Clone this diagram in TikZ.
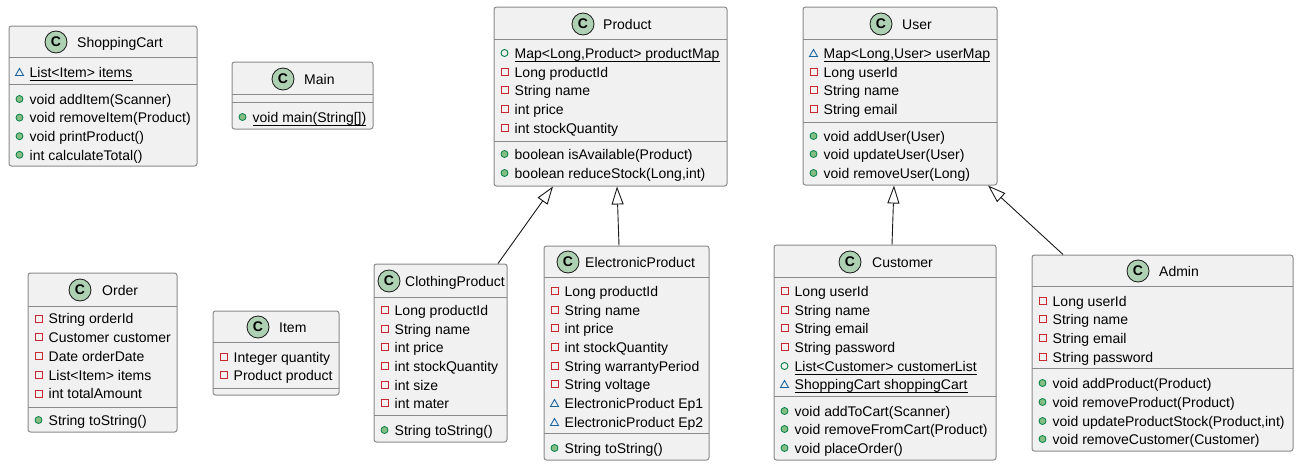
\documentclass[tikz,border=0pt]{standalone}
\usepackage{fontspec}
\setmainfont{Liberation Sans}
\usetikzlibrary{arrows.meta,fit}
\definecolor{boxfill}{HTML}{F1F1F1}
\definecolor{boxline}{HTML}{8A8A8A}
\definecolor{spotfill}{HTML}{ADD1B2}
\definecolor{privred}{HTML}{C82930}
\definecolor{pubgreen}{HTML}{038048}
\definecolor{pubfill}{HTML}{84BE84}
\definecolor{pkgblue}{HTML}{1963A0}
\definecolor{edgecol}{HTML}{181818}
\tikzset{
  clsbox/.style={draw=boxline, fill=boxfill, line width=1pt, rounded corners=2.5pt, inner sep=0pt},
  sepline/.style={draw=boxline, line width=1pt},
  rowtext/.style={anchor=base west, inner sep=0pt, font=\fontsize{14}{16}\selectfont, text=black},
  titletext/.style={anchor=base west, inner sep=0pt, font=\fontsize{14}{16}\selectfont, text=black},
  spot/.style={circle, draw=edgecol, fill=spotfill, line width=0.8pt, minimum size=22pt, inner sep=0pt, font=\bfseries\fontsize{14}{16}\selectfont},
  privst/.style={draw=privred, line width=0.9pt},
  pubmst/.style={draw=pubgreen, fill=pubfill, line width=0.8pt},
  pubfst/.style={draw=pubgreen, line width=0.9pt},
  pkgst/.style={draw=pkgblue, line width=0.9pt, line join=miter},
  inh/.style={draw=edgecol, line width=0.9pt, -{Triangle[open, length=18pt, width=12pt]}},
}
% #1 node name, #2 box left, #3 row centre y, #4 text
\newcommand{\privrow}[4]{%
  \draw[privst] (#2+7,#3-3.5) rectangle (#2+14,#3+3.5);
  \node[rowtext] (#1) at (#2+20.5,#3+5.2) {#4};}
\newcommand{\pubmrow}[4]{%
  \draw[pubmst] (#2+10.5,#3) circle (3.5);
  \node[rowtext] (#1) at (#2+20.5,#3+5.2) {#4};}
\newcommand{\pubfrow}[4]{%
  \draw[pubfst] (#2+10.5,#3) circle (3.5);
  \node[rowtext] (#1) at (#2+20.5,#3+5.2) {#4};}
\newcommand{\pkgrow}[4]{%
  \draw[pkgst] (#2+6.5,#3+3.5) -- (#2+10.5,#3-3.5) -- (#2+14.5,#3+3.5) -- cycle;
  \node[rowtext] (#1) at (#2+20.5,#3+5.2) {#4};}
\newcommand{\ul}[1]{\draw[black, line width=0.8pt] ([yshift=-3pt]#1.base west) -- ([yshift=-3pt]#1.base east);}
\begin{document}
\begin{tikzpicture}[x=1pt,y=-1pt]
\useasboundingbox (0,0) rectangle (1299,466);

% ---------- ShoppingCart ----------
\node[clsbox, fit={(9,26) (197,166)}] (shoppingcart) {};
\node[spot] (scspot) at (56,42) {C};
\node[titletext] (sctitle) at (77,47.5) {ShoppingCart};
\draw[sepline] (9,57) -- (197,57);
\draw[sepline] (9,84) -- (197,84);
\pkgrow{sc1}{9}{72}{List<Item> items}\ul{sc1}
\pubmrow{sc2}{9}{99}{void addItem(Scanner)}
\pubmrow{sc3}{9}{117.6}{void removeItem(Product)}
\pubmrow{sc4}{9}{136.2}{void printProduct()}
\pubmrow{sc5}{9}{154.8}{int calculateTotal()}

% ---------- Main ----------
\node[clsbox, fit={(232,62) (373,129)}] (main) {};
\node[spot] (mnspot) at (283,79) {C};
\node[titletext] (mntitle) at (304,84.5) {Main};
\draw[sepline] (232,94) -- (373,94);
\draw[sepline] (232,102) -- (373,102);
\pubmrow{mn1}{232}{117}{void main(String[])}\ul{mn1}

% ---------- Product ----------
\node[clsbox, fit={(494,7) (727,186)}] (product) {};
\node[spot] (prspot) at (583,24) {C};
\node[titletext] (prtitle) at (603,29.5) {Product};
\draw[sepline] (494,39) -- (727,39);
\draw[sepline] (494,141) -- (727,141);
\pubfrow{pr1}{494}{53}{Map<Long,Product> productMap}\ul{pr1}
\privrow{pr2}{494}{72}{Long productId}
\privrow{pr3}{494}{90}{String name}
\privrow{pr4}{494}{109}{int price}
\privrow{pr5}{494}{128}{int stockQuantity}
\pubmrow{pr6}{494}{154}{boolean isAvailable(Product)}
\pubmrow{pr7}{494}{173}{boolean reduceStock(Long,int)}

% ---------- User ----------
\node[clsbox, fit={(803,7) (997,185)}] (user) {};
\node[spot] (usspot) at (881,24) {C};
\node[titletext] (ustitle) at (902,29.5) {User};
\draw[sepline] (803,39) -- (997,39);
\draw[sepline] (803,122) -- (997,122);
\pkgrow{us1}{803}{53}{Map<Long,User> userMap}\ul{us1}
\privrow{us2}{803}{72}{Long userId}
\privrow{us3}{803}{90}{String name}
\privrow{us4}{803}{109}{String email}
\pubmrow{us5}{803}{136}{void addUser(User)}
\pubmrow{us6}{803}{154}{void updateUser(User)}
\pubmrow{us7}{803}{173}{void removeUser(Long)}

% ---------- Order ----------
\node[clsbox, fit={(28,273) (177,432)}] (order) {};
\node[spot] (orspot) at (80,290) {C};
\node[titletext] (ortitle) at (102,295.5) {Order};
\draw[sepline] (28,306) -- (177,306);
\draw[sepline] (28,407) -- (177,407);
\privrow{or1}{28}{318.5}{String orderId}
\privrow{or2}{28}{337}{Customer customer}
\privrow{or3}{28}{356}{Date orderDate}
\privrow{or4}{28}{375}{List<Item> items}
\privrow{or5}{28}{393.5}{int totalAmount}
\pubmrow{or6}{28}{420}{String toString()}

% ---------- Item ----------
\node[clsbox, fit={(213,311) (339,395)}] (item) {};
\node[spot] (itspot) at (258,327) {C};
\node[titletext] (ittitle) at (279,332.5) {Item};
\draw[sepline] (213,342) -- (339,342);
\draw[sepline] (213,388) -- (339,388);
\privrow{it1}{213}{357}{Integer quantity}
\privrow{it2}{213}{375}{Product product}

% ---------- ClothingProduct ----------
\node[clsbox, fit={(374,264) (507,442)}] (clothing) {};
\node[spot] (clspot) at (389,281) {C};
\node[titletext] (cltitle) at (405,286.5) {ClothingProduct};
\draw[sepline] (374,297) -- (507,297);
\draw[sepline] (374,415) -- (507,415);
\privrow{cl1}{374}{310}{Long productId}
\privrow{cl2}{374}{329}{String name}
\privrow{cl3}{374}{347}{int price}
\privrow{cl4}{374}{366}{int stockQuantity}
\privrow{cl5}{374}{385}{int size}
\privrow{cl6}{374}{403}{int mater}
\pubmrow{cl7}{374}{430}{String toString()}

% ---------- ElectronicProduct ----------
\node[clsbox, fit={(544,246) (709,460)}] (electronic) {};
\node[spot] (elspot) at (568,262) {C};
\node[titletext] (eltitle) at (585,267.5) {ElectronicProduct};
\draw[sepline] (544,277) -- (709,277);
\draw[sepline] (544,433) -- (709,433);
\privrow{el1}{544}{291}{Long productId}
\privrow{el2}{544}{310}{String name}
\privrow{el3}{544}{328}{int price}
\privrow{el4}{544}{347}{int stockQuantity}
\privrow{el5}{544}{366}{String warrantyPeriod}
\privrow{el6}{544}{384}{String voltage}
\pkgrow{el7}{544}{403}{ElectronicProduct Ep1}
\pkgrow{el8}{544}{422}{ElectronicProduct Ep2}
\pubmrow{el9}{544}{448}{String toString()}

% ---------- Customer ----------
\node[clsbox, fit={(774,245) (996,460)}] (customer) {};
\node[spot] (cuspot) at (850,262) {C};
\node[titletext] (cutitle) at (872,267.5) {Customer};
\draw[sepline] (774,277) -- (996,277);
\draw[sepline] (774,396) -- (996,396);
\privrow{cu1}{774}{291}{Long userId}
\privrow{cu2}{774}{310}{String name}
\privrow{cu3}{774}{328}{String email}
\privrow{cu4}{774}{347}{String password}
\pubfrow{cu5}{774}{366}{List<Customer> customerList}\ul{cu5}
\pkgrow{cu6}{774}{384}{ShoppingCart shoppingCart}\ul{cu6}
\pubmrow{cu7}{774}{411}{void addToCart(Scanner)}
\pubmrow{cu8}{774}{429}{void removeFromCart(Product)}
\pubmrow{cu9}{774}{448}{void placeOrder()}

% ---------- Admin ----------
\node[clsbox, fit={(1032,255) (1293,451)}] (admin) {};
\node[spot] (adspot) at (1138,271) {C};
\node[titletext] (adtitle) at (1159,276.5) {Admin};
\draw[sepline] (1032,286) -- (1293,286);
\draw[sepline] (1032,368) -- (1293,368);
\privrow{ad1}{1032}{301}{Long userId}
\privrow{ad2}{1032}{319}{String name}
\privrow{ad3}{1032}{338}{String email}
\privrow{ad4}{1032}{357}{String password}
\pubmrow{ad5}{1032}{383}{void addProduct(Product)}
\pubmrow{ad6}{1032}{402}{void removeProduct(Product)}
\pubmrow{ad7}{1032}{421}{void updateProductStock(Product,int)}
\pubmrow{ad8}{1032}{439}{void removeCustomer(Customer)}

% ---------- Inheritance ----------
\draw[inh] ([xshift=57.5pt]clothing.north) -- ([xshift=-57.5pt]product.south);
\draw[inh] ([xshift=-7.5pt]electronic.north) -- ([xshift=6.5pt]product.south);
\draw[inh] ([xshift=7pt]customer.north) -- ([xshift=-6pt]user.south);
\draw[inh] ([xshift=-99.5pt]admin.north) -- ([xshift=88pt]user.south);
\end{tikzpicture}
\end{document}
